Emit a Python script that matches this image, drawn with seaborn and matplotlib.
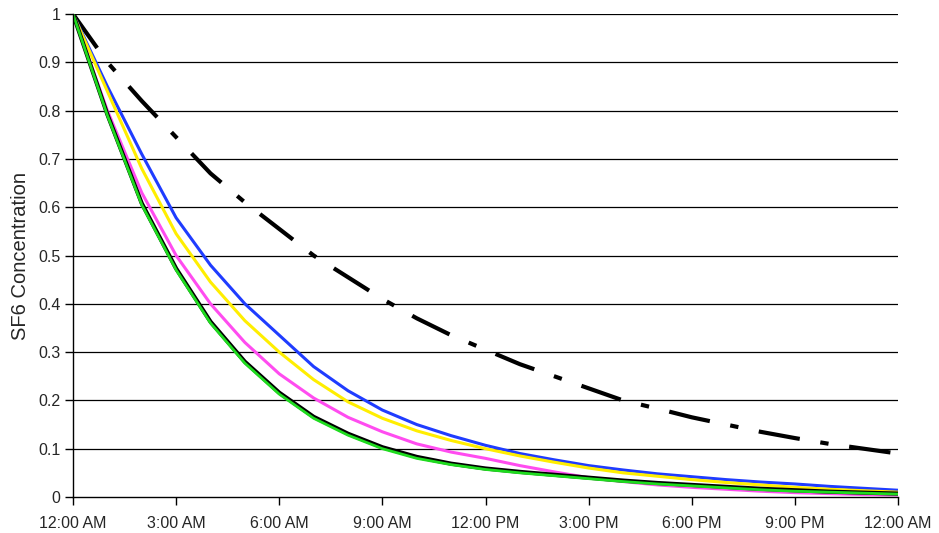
import pandas as pd
import matplotlib
matplotlib.use("Agg")
import matplotlib.pyplot as plt
import seaborn as sns

# hours since midnight, one reading per hour
hours = list(range(25))
tick_hours = [0, 3, 6, 9, 12, 15, 18, 21, 24]
tick_labels = ['12:00 AM', '3:00 AM', '6:00 AM', '9:00 AM', '12:00 PM',
               '3:00 PM', '6:00 PM', '9:00 PM', '12:00 AM']
y_ticks = [0, 0.1, 0.2, 0.3, 0.4, 0.5, 0.6, 0.7, 0.8, 0.9, 1.0]
y_labels = ['0', '0.1', '0.2', '0.3', '0.4', '0.5', '0.6', '0.7', '0.8', '0.9', '1']

# SF6 concentration
dashdot = [1.0, 0.90, 0.82, 0.745, 0.67, 0.61, 0.555, 0.50, 0.455, 0.41, 0.37,
           0.335, 0.305, 0.275, 0.25, 0.225, 0.20, 0.183, 0.165, 0.15, 0.135,
           0.122, 0.11, 0.10, 0.09]
blue = [1.0, 0.85, 0.71, 0.578, 0.48, 0.40, 0.335, 0.27, 0.22, 0.18, 0.15,
        0.127, 0.107, 0.09, 0.077, 0.065, 0.056, 0.048, 0.042, 0.036, 0.031,
        0.027, 0.022, 0.018, 0.014]
yellow = [1.0, 0.84, 0.68, 0.545, 0.445, 0.365, 0.30, 0.243, 0.197, 0.163, 0.137,
          0.117, 0.10, 0.085, 0.072, 0.06, 0.05, 0.043, 0.036, 0.03, 0.025,
          0.02, 0.016, 0.013, 0.01]
magenta = [1.0, 0.80, 0.63, 0.50, 0.40, 0.32, 0.255, 0.205, 0.165, 0.135, 0.11,
           0.093, 0.08, 0.065, 0.052, 0.04, 0.032, 0.025, 0.02, 0.016, 0.012,
           0.009, 0.007, 0.005, 0.004]
green = [1.0, 0.79, 0.605, 0.47, 0.36, 0.277, 0.213, 0.163, 0.128, 0.10, 0.08,
         0.067, 0.057, 0.05, 0.044, 0.038, 0.032, 0.027, 0.023, 0.019, 0.015,
         0.012, 0.01, 0.008, 0.006]
black = [1.0, 0.792, 0.608, 0.473, 0.363, 0.28, 0.216, 0.166, 0.131, 0.103, 0.083,
         0.069, 0.059, 0.052, 0.046, 0.04, 0.034, 0.029, 0.025, 0.021, 0.017,
         0.014, 0.011, 0.009, 0.007]

series = {'dashdot': dashdot, 'blue': blue, 'yellow': yellow,
          'magenta': magenta, 'black': black, 'green': green}
frames = [pd.DataFrame({'hour': hours, 'conc': v, 'run': k}) for k, v in series.items()]
df = pd.concat(frames, ignore_index=True)

sns.set_style('white')
plt.rcParams['font.family'] = ['Liberation Sans', 'DejaVu Sans']

fig = plt.figure(figsize=(9.39, 5.33), dpi=100)
ax = fig.add_axes([73 / 939, 1 - 497 / 533, 825 / 939, 483 / 533])

# horizontal gridlines
for y in y_ticks[1:]:
    ax.axhline(y, color='black', lw=0.9, zorder=0)

styles = {
    'dashdot': dict(color='black', lw=3.0),
    'blue': dict(color='#1f3cff', lw=2.2),
    'yellow': dict(color='#ffee00', lw=2.2),
    'magenta': dict(color='#ff4cf0', lw=2.2),
    'black': dict(color='black', lw=3.0),
    'green': dict(color='#1fdc1f', lw=2.0),
}
for name, st in styles.items():
    sub = df[df['run'] == name]
    sns.lineplot(data=sub, x='hour', y='conc', ax=ax, legend=False,
                 color=st['color'], linewidth=st['lw'])
    if name == 'dashdot':
        l = ax.lines[-1]
        l.set_dashes((10, 5, 2, 5))
        l.set_dash_capstyle('butt')

ax.set_xlim(0, 24)
ax.set_ylim(0, 1)
ax.set_xticks(tick_hours)
ax.set_xticklabels(tick_labels)
ax.set_yticks(y_ticks)
ax.set_yticklabels(y_labels)
ax.set_xlabel('')
ax.set_ylabel('SF6 Concentration', fontsize=14.5, labelpad=6)
ax.tick_params(axis='both', labelsize=11.5, length=6, width=1, color='black',
               direction='out', bottom=True, left=True, pad=3)
ax.tick_params(axis='x', pad=8)
for s in ['top', 'right']:
    ax.spines[s].set_visible(False)
for s in ['left', 'bottom']:
    ax.spines[s].set_color('black')
    ax.spines[s].set_linewidth(1.0)

fig.savefig('out.png', dpi=100)
